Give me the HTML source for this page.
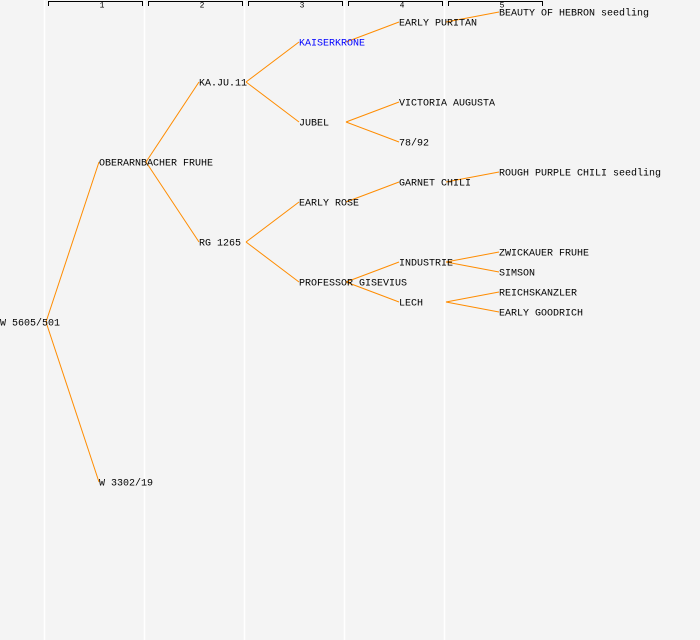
<!DOCTYPE html>
<html><head><style>
html,body{margin:0;padding:0;background:#f4f4f4;}
svg{display:block;}
text{font-family:"Liberation Mono","DejaVu Sans Mono",monospace;font-size:10px;fill:#000;dominant-baseline:central;}
.n{transform:translateY(2px);}
.h{font-size:8px;text-anchor:middle;}
</style></head><body>
<svg width="700" height="640" viewBox="0 0 700 640" xmlns="http://www.w3.org/2000/svg">
<rect width="700" height="640" fill="#f4f4f4"/>
<g stroke="#fff" stroke-width="1.5">
<line x1="44.5" y1="0" x2="44.5" y2="640"/>
<line x1="144.5" y1="0" x2="144.5" y2="640"/>
<line x1="244.5" y1="0" x2="244.5" y2="640"/>
<line x1="344.5" y1="0" x2="344.5" y2="640"/>
<line x1="444.5" y1="0" x2="444.5" y2="640"/>
</g>
<g stroke="#000" stroke-width="1" fill="none">
<polyline points="48.5,6 48.5,1.5 142.5,1.5 142.5,6"/>
<polyline points="148.5,6 148.5,1.5 242.5,1.5 242.5,6"/>
<polyline points="248.5,6 248.5,1.5 342.5,1.5 342.5,6"/>
<polyline points="348.5,6 348.5,1.5 442.5,1.5 442.5,6"/>
<polyline points="448.5,6 448.5,1.5 542.5,1.5 542.5,6"/>
</g>
<text class="h" x="102" y="6">1</text>
<text class="h" x="202" y="6">2</text>
<text class="h" x="302" y="6">3</text>
<text class="h" x="402" y="6">4</text>
<text class="h" x="502" y="6">5</text>
<g stroke="#ff8c00" stroke-width="1" fill="none">
<line x1="46" y1="322" x2="99" y2="162"/>
<line x1="46" y1="322" x2="99" y2="482"/>
<line x1="146" y1="162" x2="199" y2="82"/>
<line x1="146" y1="162" x2="199" y2="242"/>
<line x1="246" y1="82" x2="299" y2="42"/>
<line x1="246" y1="82" x2="299" y2="122"/>
<line x1="246" y1="242" x2="299" y2="202"/>
<line x1="246" y1="242" x2="299" y2="282"/>
<line x1="346" y1="42" x2="399" y2="22"/>
<line x1="346" y1="122" x2="399" y2="102"/>
<line x1="346" y1="122" x2="399" y2="142"/>
<line x1="346" y1="202" x2="399" y2="182"/>
<line x1="346" y1="282" x2="399" y2="262"/>
<line x1="346" y1="282" x2="399" y2="302"/>
<line x1="446" y1="22" x2="499" y2="12"/>
<line x1="446" y1="182" x2="499" y2="172"/>
<line x1="446" y1="262" x2="499" y2="252"/>
<line x1="446" y1="262" x2="499" y2="272"/>
<line x1="446" y1="302" x2="499" y2="292"/>
<line x1="446" y1="302" x2="499" y2="312"/>
</g>
<g class="n">
<text x="0" y="322">W 5605/501</text>
<text x="99" y="162">OBERARNBACHER FRUHE</text>
<text x="99" y="482">W 3302/19</text>
<text x="199" y="82">KA.JU.11</text>
<text x="199" y="242">RG 1265</text>
<text x="299" y="42" style="fill:#0000ff">KAISERKRONE</text>
<text x="299" y="122">JUBEL</text>
<text x="299" y="202">EARLY ROSE</text>
<text x="299" y="282">PROFESSOR GISEVIUS</text>
<text x="399" y="22">EARLY PURITAN</text>
<text x="399" y="102">VICTORIA AUGUSTA</text>
<text x="399" y="142">78/92</text>
<text x="399" y="182">GARNET CHILI</text>
<text x="399" y="262">INDUSTRIE</text>
<text x="399" y="302">LECH</text>
<text x="499" y="12">BEAUTY OF HEBRON seedling</text>
<text x="499" y="172">ROUGH PURPLE CHILI seedling</text>
<text x="499" y="252">ZWICKAUER FRUHE</text>
<text x="499" y="272">SIMSON</text>
<text x="499" y="292">REICHSKANZLER</text>
<text x="499" y="312">EARLY GOODRICH</text>
</g>
</svg>
</body></html>
